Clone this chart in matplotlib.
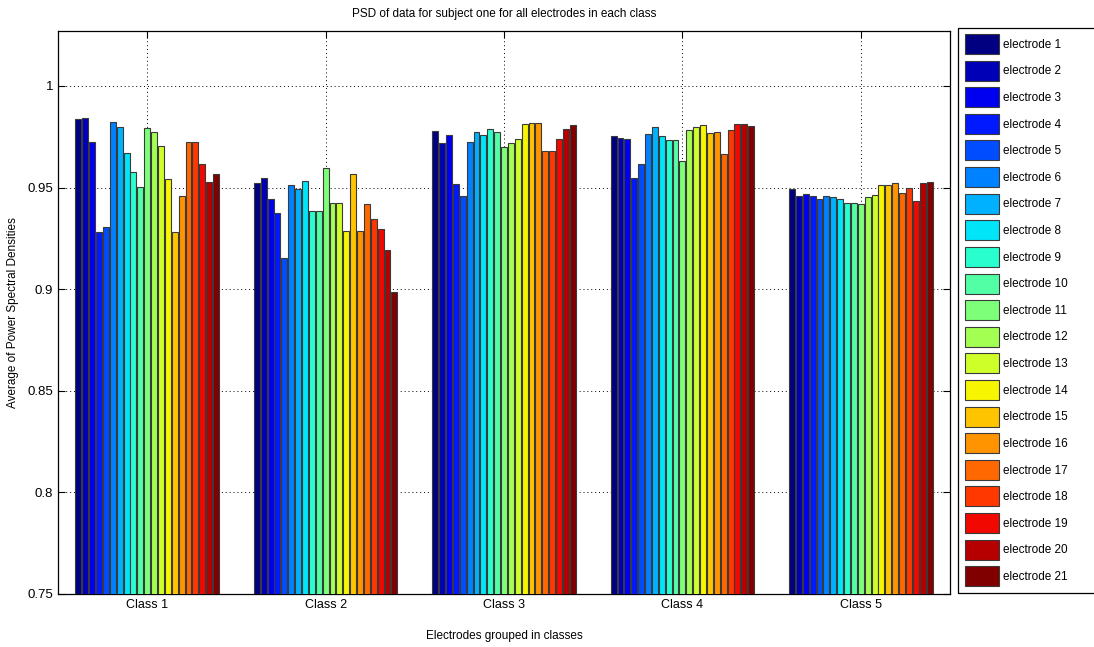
import numpy as np
import matplotlib
matplotlib.use("Agg")
import matplotlib.pyplot as plt
from matplotlib.patches import Rectangle

classes = ["Class 1", "Class 2", "Class 3", "Class 4", "Class 5"]
electrodes = [f"electrode {i}" for i in range(1, 22)]

class1 = [0.9836, 0.9841, 0.9726, 0.9283, 0.9308, 0.9824, 0.9797, 0.9672, 0.9578, 0.9501, 0.9792,
          0.9774, 0.9703, 0.9541, 0.9283, 0.9459, 0.9726, 0.9726, 0.9616, 0.9529, 0.9567]
class2 = [0.9524, 0.9546, 0.9442, 0.9373, 0.9155, 0.9513, 0.9492, 0.9534, 0.9382, 0.9382, 0.9595,
          0.9423, 0.9426, 0.9288, 0.9567, 0.9288, 0.9419, 0.9344, 0.9295, 0.9193, 0.8985]
class3 = [0.9780, 0.9718, 0.9759, 0.9518, 0.9459, 0.9726, 0.9774, 0.9759, 0.9790, 0.9774, 0.9698,
          0.9721, 0.9738, 0.9813, 0.9816, 0.9816, 0.9682, 0.9682, 0.9738, 0.9787, 0.9808]
class4 = [0.9754, 0.9743, 0.9738, 0.9546, 0.9616, 0.9764, 0.9797, 0.9751, 0.9734, 0.9734, 0.9632,
          0.9783, 0.9797, 0.9807, 0.9769, 0.9774, 0.9665, 0.9783, 0.9813, 0.9813, 0.9803]
class5 = [0.9492, 0.9459, 0.9468, 0.9459, 0.9442, 0.9459, 0.9452, 0.9442, 0.9426, 0.9426, 0.9419,
          0.9452, 0.9464, 0.9513, 0.9513, 0.9524, 0.9475, 0.9497, 0.9436, 0.9524, 0.9529]

yticks = [0.75, 0.8, 0.85, 0.9, 0.95, 1.0]
yticklabels = ["0.75", "0.8", "0.85", "0.9", "0.95", "1"]

plt.rcParams['font.family'] = ['Liberation Sans', 'DejaVu Sans']

data = np.array([class1, class2, class3, class4, class5])
nE = data.shape[1]
colors = plt.cm.jet(np.linspace(0, 1, nE))

W, H = 1094, 647
fig = plt.figure(figsize=(W / 100, H / 100), dpi=100)
ax = fig.add_axes([58 / W, 53 / H, 892 / W, 563 / H])

x = np.arange(1, len(classes) + 1)
group_w = 0.81
slot = group_w / nE
bars = []
for j in range(nE):
    pos = x - group_w / 2 + slot * (j + 0.5)
    b = ax.bar(pos, data[:, j], width=slot * 0.86, color=colors[j], edgecolor='#3a3a3a',
               linewidth=0.8, label=electrodes[j], zorder=3)
    bars.append(b)

ax.set_xlim(0.5, 5.5)
ax.set_ylim(0.75, 1.027)
ax.set_xticks(x)
ax.set_xticklabels(classes, fontsize=9)
ax.set_yticks(yticks)
ax.set_yticklabels(yticklabels, fontsize=9.5)
ax.tick_params(direction='in', top=True, right=True, length=5, width=0.8)
ax.grid(True, linestyle=(0, (1, 3)), color='black', linewidth=0.7, zorder=0)
ax.set_axisbelow(True)
for s in ax.spines.values():
    s.set_linewidth(0.9)

ax.set_title("PSD of data for subject one for all electrodes in each class", fontsize=8.5, pad=10)
ax.set_xlabel("Electrodes grouped in classes", fontsize=8.5, labelpad=14)
ax.set_ylabel("Average of Power Spectral Densities", fontsize=8.5, labelpad=6)

leg = fig.legend(handles=bars, labels=electrodes, loc='upper left',
                 bbox_to_anchor=(965 / W, 1 - 34 / H), bbox_transform=fig.transFigure,
                 fontsize=8.5, frameon=False,
                 handlelength=2.9, handleheight=2.23, labelspacing=0.56, handletextpad=0.34,
                 borderpad=0, borderaxespad=0)

frame = Rectangle((958 / W, 1 - 593 / H), (1110 - 958) / W, (593 - 28) / H,
                  transform=fig.transFigure, fill=False, edgecolor='black', linewidth=0.9,
                  clip_on=False)
fig.add_artist(frame)

fig.savefig("out.png", dpi=100)
